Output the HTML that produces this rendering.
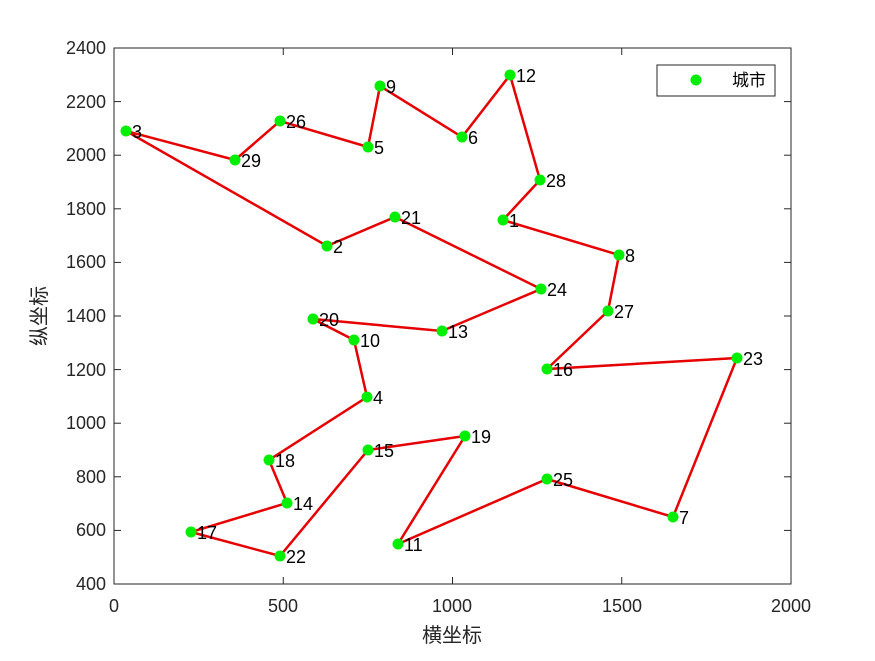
<!DOCTYPE html>
<html><head><meta charset="utf-8"><style>
html,body{margin:0;padding:0;background:#fff;}
text{font-family:"Liberation Sans","Noto Sans CJK SC",sans-serif;}
</style></head><body>
<svg width="875" height="656" xmlns="http://www.w3.org/2000/svg">
<rect width="875" height="656" fill="#fff"/>
<rect x="114" y="48" width="677" height="536" fill="#fff" stroke="#262626" stroke-width="1"/>
<g stroke="#262626" stroke-width="1">
<line x1="114" y1="584" x2="114" y2="577"/><line x1="283.25" y1="584" x2="283.25" y2="577"/><line x1="452.5" y1="584" x2="452.5" y2="577"/><line x1="621.75" y1="584" x2="621.75" y2="577"/><line x1="791" y1="584" x2="791" y2="577"/>
<line x1="114" y1="48" x2="114" y2="55"/><line x1="283.25" y1="48" x2="283.25" y2="55"/><line x1="452.5" y1="48" x2="452.5" y2="55"/><line x1="621.75" y1="48" x2="621.75" y2="55"/><line x1="791" y1="48" x2="791" y2="55"/>
<line x1="114" y1="48" x2="121" y2="48"/><line x1="114" y1="101.6" x2="121" y2="101.6"/><line x1="114" y1="155.2" x2="121" y2="155.2"/><line x1="114" y1="208.8" x2="121" y2="208.8"/><line x1="114" y1="262.4" x2="121" y2="262.4"/><line x1="114" y1="316" x2="121" y2="316"/><line x1="114" y1="369.6" x2="121" y2="369.6"/><line x1="114" y1="423.2" x2="121" y2="423.2"/><line x1="114" y1="476.8" x2="121" y2="476.8"/><line x1="114" y1="530.4" x2="121" y2="530.4"/><line x1="114" y1="584" x2="121" y2="584"/>
<line x1="791" y1="48" x2="784" y2="48"/><line x1="791" y1="101.6" x2="784" y2="101.6"/><line x1="791" y1="155.2" x2="784" y2="155.2"/><line x1="791" y1="208.8" x2="784" y2="208.8"/><line x1="791" y1="262.4" x2="784" y2="262.4"/><line x1="791" y1="316" x2="784" y2="316"/><line x1="791" y1="369.6" x2="784" y2="369.6"/><line x1="791" y1="423.2" x2="784" y2="423.2"/><line x1="791" y1="476.8" x2="784" y2="476.8"/><line x1="791" y1="530.4" x2="784" y2="530.4"/><line x1="791" y1="584" x2="784" y2="584"/>
</g>
<g font-size="18" fill="#262626" text-anchor="middle">
<text x="114" y="612">0</text><text x="283" y="612">500</text><text x="452" y="612">1000</text><text x="622" y="612">1500</text><text x="791" y="612">2000</text>
</g>
<g font-size="18" fill="#262626" text-anchor="end">
<text x="106" y="54">2400</text><text x="106" y="108">2200</text><text x="106" y="161">2000</text><text x="106" y="215">1800</text><text x="106" y="268">1600</text><text x="106" y="322">1400</text><text x="106" y="376">1200</text><text x="106" y="429">1000</text><text x="106" y="483">800</text><text x="106" y="536">600</text><text x="106" y="590">400</text>
</g>
<text x="452" y="642" font-size="20" fill="#262626" text-anchor="middle">横坐标</text>
<text transform="translate(46,316) rotate(-90)" font-size="20" fill="#262626" text-anchor="middle">纵坐标</text>
<polyline fill="none" stroke="#e60000" stroke-width="2.5" points="126,131 235,160 280,121 368,147 380,86 462,137 510,75 540,180 503,220 619,255 608,311 547,369 737,358 673,517 547,479 398,544 465,436 368,450 280,556 191,532 287,503 269,460 367,397 354,340 313,319 442,331 541,289 395,217 327,246 126,131"/>
<g fill="#00ee00">
<circle cx="503" cy="220" r="5.5"/><circle cx="327" cy="246" r="5.5"/><circle cx="126" cy="131" r="5.5"/><circle cx="367" cy="397" r="5.5"/><circle cx="368" cy="147" r="5.5"/><circle cx="462" cy="137" r="5.5"/><circle cx="673" cy="517" r="5.5"/><circle cx="619" cy="255" r="5.5"/><circle cx="380" cy="86" r="5.5"/><circle cx="354" cy="340" r="5.5"/><circle cx="398" cy="544" r="5.5"/><circle cx="510" cy="75" r="5.5"/><circle cx="442" cy="331" r="5.5"/><circle cx="287" cy="503" r="5.5"/><circle cx="368" cy="450" r="5.5"/><circle cx="547" cy="369" r="5.5"/><circle cx="191" cy="532" r="5.5"/><circle cx="269" cy="460" r="5.5"/><circle cx="465" cy="436" r="5.5"/><circle cx="313" cy="319" r="5.5"/><circle cx="395" cy="217" r="5.5"/><circle cx="280" cy="556" r="5.5"/><circle cx="737" cy="358" r="5.5"/><circle cx="541" cy="289" r="5.5"/><circle cx="547" cy="479" r="5.5"/><circle cx="280" cy="121" r="5.5"/><circle cx="608" cy="311" r="5.5"/><circle cx="540" cy="180" r="5.5"/><circle cx="235" cy="160" r="5.5"/>
</g>
<g font-size="18" fill="#000">
<text x="509" y="227">1</text><text x="333" y="253">2</text><text x="132" y="138">3</text><text x="373" y="404">4</text><text x="374" y="154">5</text><text x="468" y="144">6</text><text x="679" y="524">7</text><text x="625" y="262">8</text><text x="386" y="93">9</text><text x="360" y="347">10</text><text x="404" y="551">11</text><text x="516" y="82">12</text><text x="448" y="338">13</text><text x="293" y="510">14</text><text x="374" y="457">15</text><text x="553" y="376">16</text><text x="197" y="539">17</text><text x="275" y="467">18</text><text x="471" y="443">19</text><text x="319" y="326">20</text><text x="401" y="224">21</text><text x="286" y="563">22</text><text x="743" y="365">23</text><text x="547" y="296">24</text><text x="553" y="486">25</text><text x="286" y="128">26</text><text x="614" y="318">27</text><text x="546" y="187">28</text><text x="241" y="167">29</text>
</g>
<rect x="657" y="65" width="118" height="31" fill="#fff" stroke="#262626" stroke-width="1"/>
<circle cx="696" cy="80" r="5.5" fill="#00ee00"/>
<text x="732" y="86" font-size="17" fill="#000">城市</text>
</svg>
</body></html>
